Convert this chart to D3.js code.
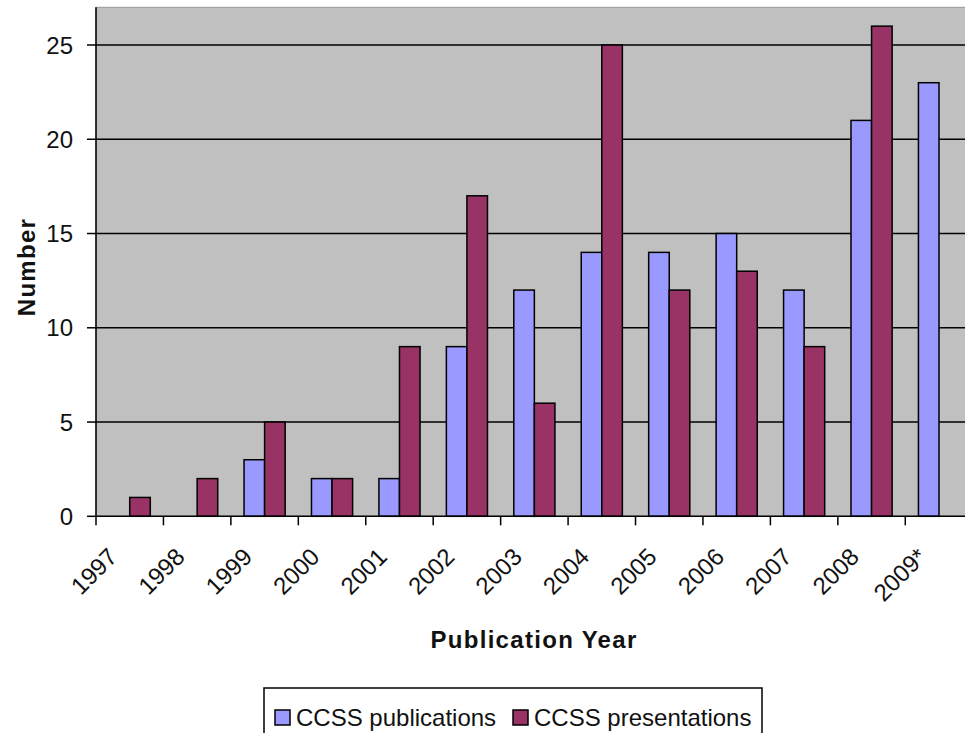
<!DOCTYPE html>
<html lang="en">
<head>
    <meta charset="UTF-8">
    <title>CCSS publications and presentations</title>
    <script src="https://d3js.org/d3.v7.min.js"></script>
    <style>
        body {
            margin: 0;
            background-color: #fff;
            font-family: Arial, "Liberation Sans", sans-serif;
        }
        svg {
            display: block;
        }
    </style>
</head>
<body>
    <svg id="chart"></svg>

    <script>
        // data
        const years = ["1997", "1998", "1999", "2000", "2001", "2002", "2003",
                       "2004", "2005", "2006", "2007", "2008", "2009*"];
        const publications = [0, 0, 3, 2, 2, 9, 12, 14, 14, 15, 12, 21, 23];
        const presentations = [1, 2, 5, 2, 9, 17, 6, 25, 12, 13, 9, 26, null];
        const seriesNames = ["CCSS publications", "CCSS presentations"];
        const seriesColors = ["#9999FF", "#993366"];
        const yTicks = [0, 5, 10, 15, 20, 25];

        const width = 965;
        const height = 733;

        const svg = d3.select("#chart")
            .attr("width", width)
            .attr("height", height);

        // plot area (runs off the right edge, like the original crop)
        const plotLeft = 96, plotTop = 7.3, plotBottom = 516.3, step = 67.44;
        const plotRight = plotLeft + years.length * step;

        const x = d3.scaleBand()
            .domain(years)
            .range([plotLeft, plotRight])
            .padding(0);

        const xInner = d3.scaleBand()
            .domain([0, 1])
            .range([0, x.bandwidth()])
            .paddingInner(0)
            .paddingOuter(0.64);

        const y = d3.scaleLinear()
            .domain([0, 27])
            .range([plotBottom, plotTop]);

        // background
        svg.append("rect")
            .attr("x", plotLeft)
            .attr("y", plotTop)
            .attr("width", plotRight - plotLeft)
            .attr("height", plotBottom - plotTop)
            .style("fill", "#C0C0C0")
            .style("stroke", "#9a9a9a")
            .style("stroke-width", 1);

        // gridlines
        svg.selectAll(".grid")
            .data(yTicks.filter(d => d > 0))
            .enter().append("line")
            .attr("x1", plotLeft)
            .attr("x2", plotRight)
            .attr("y1", d => y(d))
            .attr("y2", d => y(d))
            .style("stroke", "#000")
            .style("stroke-width", 1.5);

        // bars
        const rows = years.map((yr, i) => ({ year: yr, values: [publications[i], presentations[i]] }));

        const groups = svg.selectAll(".year")
            .data(rows)
            .enter().append("g")
            .attr("transform", d => "translate(" + x(d.year) + ",0)");

        groups.selectAll("rect")
            .data(d => d.values.map((v, k) => ({ k: k, v: v })).filter(e => e.v))
            .enter().append("rect")
            .attr("x", d => xInner(d.k))
            .attr("width", xInner.bandwidth())
            .attr("y", d => y(d.v))
            .attr("height", d => y(0) - y(d.v))
            .style("fill", d => seriesColors[d.k])
            .style("stroke", "#000")
            .style("stroke-width", 1.5);

        // y axis
        svg.append("line")
            .attr("x1", plotLeft).attr("x2", plotLeft)
            .attr("y1", plotTop).attr("y2", plotBottom + 9)
            .style("stroke", "#000")
            .style("stroke-width", 1.5);

        svg.selectAll(".ytick")
            .data(yTicks)
            .enter().append("line")
            .attr("x1", plotLeft - 9).attr("x2", plotLeft)
            .attr("y1", d => y(d)).attr("y2", d => y(d))
            .style("stroke", "#000")
            .style("stroke-width", 1.5);

        svg.selectAll(".ylabel")
            .data(yTicks)
            .enter().append("text")
            .attr("x", 73)
            .attr("y", d => y(d))
            .attr("dy", "0.36em")
            .attr("text-anchor", "end")
            .style("font-size", "24px")
            .style("fill", "#111")
            .text(d => d);

        // x axis
        svg.append("line")
            .attr("x1", plotLeft).attr("x2", plotRight)
            .attr("y1", plotBottom).attr("y2", plotBottom)
            .style("stroke", "#000")
            .style("stroke-width", 1.5);

        svg.selectAll(".xtick")
            .data(years.slice(1))
            .enter().append("line")
            .attr("x1", d => x(d)).attr("x2", d => x(d))
            .attr("y1", plotBottom).attr("y2", plotBottom + 9)
            .style("stroke", "#000")
            .style("stroke-width", 1.5);

        svg.selectAll(".xlabel")
            .data(years)
            .enter().append("text")
            .attr("transform", d => "translate(" + (x(d) + x.bandwidth() / 2 - 11) + "," + (plotBottom + 42) + ") rotate(-45)")
            .attr("text-anchor", "end")
            .style("font-size", "24px")
            .style("fill", "#111")
            .text(d => d);

        // axis titles
        svg.append("text")
            .attr("x", 534)
            .attr("y", 648)
            .attr("text-anchor", "middle")
            .style("font-size", "24px")
            .style("font-weight", "bold")
            .style("letter-spacing", "1.3px")
            .style("fill", "#111")
            .text("Publication Year");

        svg.append("text")
            .attr("transform", "translate(35,267) rotate(-90)")
            .attr("text-anchor", "middle")
            .style("font-size", "24px")
            .style("font-weight", "bold")
            .style("letter-spacing", "1.3px")
            .style("fill", "#111")
            .text("Number");

        // legend
        const legend = svg.append("g");
        legend.append("rect")
            .attr("x", 264).attr("y", 688)
            .attr("width", 498).attr("height", 60)
            .style("fill", "#fff")
            .style("stroke", "#000")
            .style("stroke-width", 1.5);

        const legendX = [275, 513];
        seriesNames.forEach((name, k) => {
            legend.append("rect")
                .attr("x", legendX[k]).attr("y", 710)
                .attr("width", 15).attr("height", 15)
                .style("fill", seriesColors[k])
                .style("stroke", "#000")
                .style("stroke-width", 1.5);
            legend.append("text")
                .attr("x", legendX[k] + 21)
                .attr("y", 726)
                .style("font-size", "24px")
                .style("fill", "#111")
                .text(name);
        });
    </script>
</body>
</html>
